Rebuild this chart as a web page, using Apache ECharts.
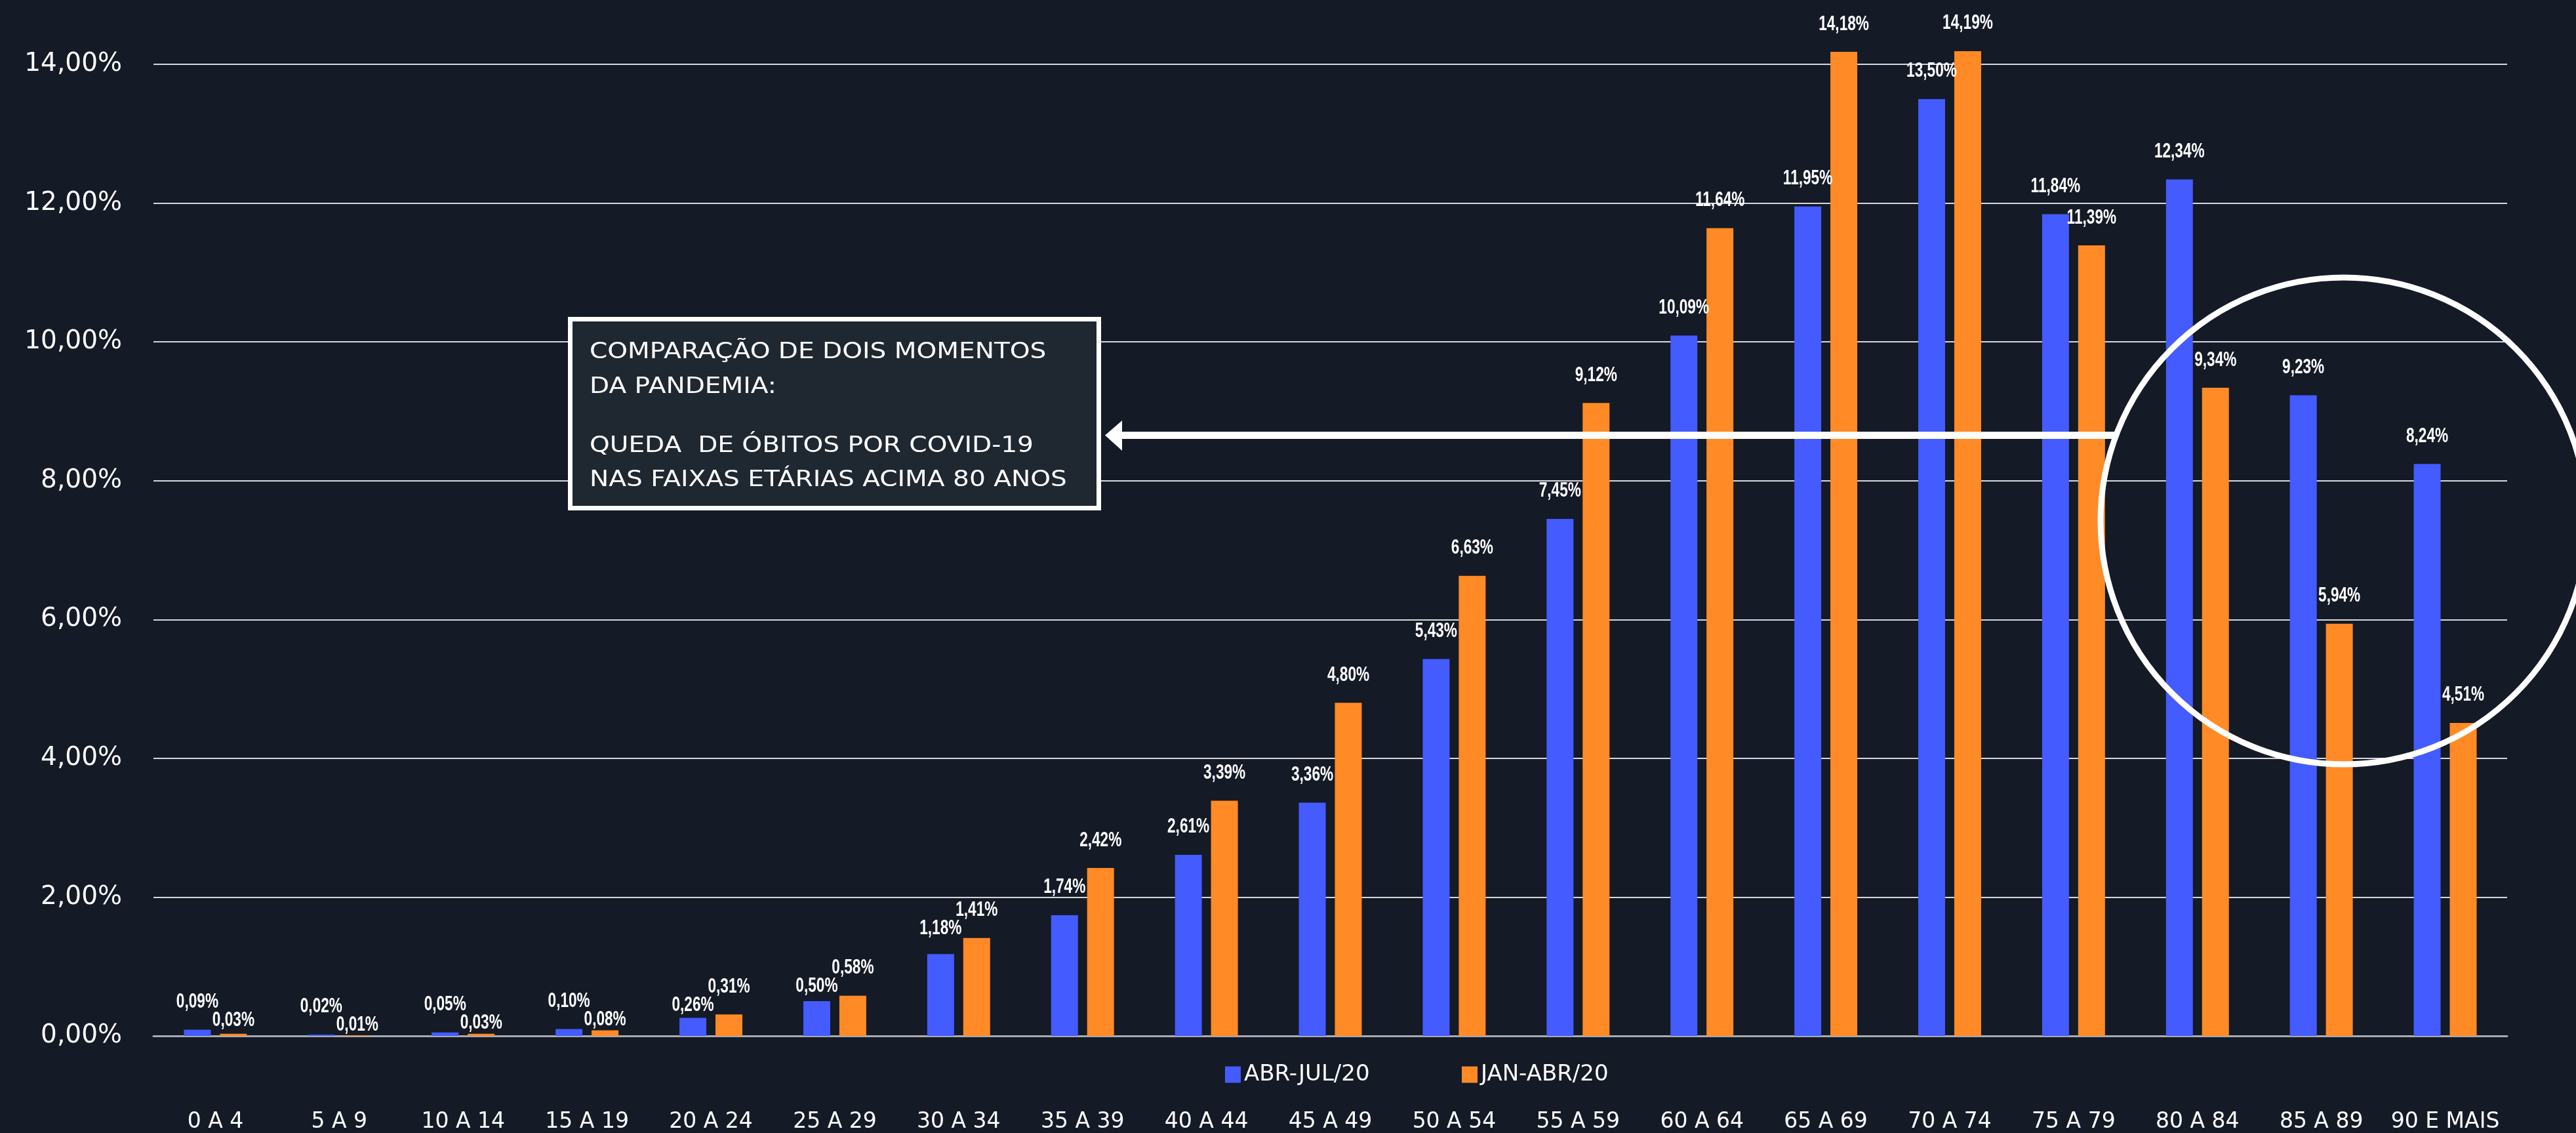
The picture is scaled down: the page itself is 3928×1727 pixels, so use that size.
<!DOCTYPE html>
<html>
<head>
<meta charset="utf-8">
<script src="https://cdn.jsdelivr.net/npm/echarts@6/dist/echarts.min.js"></script>
<style>
html,body{margin:0;padding:0;background:#141a26;}
#chart{width:3928px;height:1727px;}
</style>
</head>
<body>
<div id="chart"></div>
<script>
const categories = ["0 A 4","5 A 9","10 A 14","15 A 19","20 A 24","25 A 29","30 A 34","35 A 39","40 A 44","45 A 49","50 A 54","55 A 59","60 A 64","65 A 69","70 A 74","75 A 79","80 A 84","85 A 89","90 E MAIS"];
const abrJul = [0.09,0.02,0.05,0.10,0.26,0.50,1.18,1.74,2.61,3.36,5.43,7.45,10.09,11.95,13.50,11.84,12.34,9.23,8.24];
const janAbr = [0.03,0.01,0.03,0.08,0.31,0.58,1.41,2.42,3.39,4.80,6.63,9.12,11.64,14.18,14.19,11.39,9.34,5.94,4.51];
const seriesNames = ["ABR-JUL/20","JAN-ABR/20"];
const yTicks = {min:0, max:14, interval:2};
const boxLines1 = ["COMPARAÇÃO DE DOIS MOMENTOS","DA PANDEMIA:"];
const boxLines2 = ["QUEDA  DE ÓBITOS POR COVID-19","NAS FAIXAS ETÁRIAS ACIMA 80 ANOS"];

const BLUE = "#445BFF", ORANGE = "#FF8A26";
const SANS = "'DejaVu Sans', 'Open Sans', sans-serif";
const LBL = "'Liberation Sans', Arial, sans-serif";
const fmt = v => v.toFixed(2).replace('.', ',') + '%';

const chart = echarts.init(document.getElementById('chart'));

function labelSeries(name, values, others, offset, isFirst) {
  return {
    name: name, type: 'custom', clip: false, z: 10,
    data: values.map((v, i) => [i, v]),
    renderItem: function (params, api) {
      const i = api.value(0), v = api.value(1);
      const p = api.coord([i, v]);
      const o = api.coord([i, others[i]]);
      let y = p[1] - 42;
      const oy = o[1] - 42;
      const lower = v < others[i] || (v === others[i] && !isFirst);
      if (lower && y - oy < 28) y = oy + 28;
      return {
        type: 'text', x: p[0] + offset, y: y, scaleX: 0.73,
        style: {text: fmt(v), fill: '#ffffff', font: 'bold 31px ' + LBL,
                align: 'center', verticalAlign: 'middle'}
      };
    }
  };
}

const boxText = (txt, y) => ({
  type: 'text', x: 899, y: y, z: 101, scaleX: 1.15,
  style: {text: txt, fill: '#ffffff', font: "34px " + SANS, verticalAlign: 'middle'}
});

const legendStyle = {
  itemWidth: 24, itemHeight: 25, icon: 'rect', top: 1621, padding: 0,
  textStyle: {color: '#ffffff', fontFamily: SANS, fontSize: 34}
};

chart.setOption({
  backgroundColor: '#141a26',
  animation: false,
  grid: {left: 234, right: 105, top: 98, bottom: 147, containLabel: false},
  legend: [
    Object.assign({data: [seriesNames[0]], left: 1868}, legendStyle),
    Object.assign({data: [seriesNames[1]], left: 2229}, legendStyle)
  ],
  xAxis: {
    type: 'category', data: categories,
    axisLine: {show: true, lineStyle: {color: '#a8aaae', width: 3}},
    axisTick: {show: false},
    axisLabel: {color: '#ffffff', fontFamily: SANS, fontSize: 33, margin: 115, interval: 0}
  },
  yAxis: {
    type: 'value', min: yTicks.min, max: yTicks.max, interval: yTicks.interval,
    axisLine: {show: false}, axisTick: {show: false},
    splitLine: {lineStyle: {color: '#d8d8dc', width: 2}},
    axisLabel: {color: '#ffffff', fontFamily: SANS, fontSize: 39, margin: 48, formatter: v => fmt(v)}
  },
  series: [
    {name: seriesNames[0], type: 'bar', data: abrJul, barWidth: 41, barGap: '34%', clip: false,
     itemStyle: {color: BLUE}},
    {name: seriesNames[1], type: 'bar', data: janAbr, barWidth: 41, barGap: '34%', clip: false,
     itemStyle: {color: ORANGE}},
    labelSeries('lbl-a', abrJul, janAbr, -27.5, true),
    labelSeries('lbl-b', janAbr, abrJul, 27.5, false)
  ],
  graphic: [
    {type: 'rect', shape: {x: 869.5, y: 486.5, width: 806, height: 288},
     style: {fill: '#1f2731', stroke: '#ffffff', lineWidth: 7}, z: 100},
    boxText(boxLines1[0], 537),
    boxText(boxLines1[1], 590),
    boxText(boxLines2[0], 680),
    boxText(boxLines2[1], 732),
    {type: 'line', shape: {x1: 1706, y1: 663.5, x2: 3224, y2: 663.5},
     style: {stroke: '#ffffff', lineWidth: 11}, z: 100},
    {type: 'polygon', shape: {points: [[1685, 663.5], [1711, 641], [1711, 687]]},
     style: {fill: '#ffffff'}, z: 100},
    {type: 'circle', shape: {cx: 3574, cy: 794, r: 371},
     style: {fill: 'none', stroke: '#ffffff', lineWidth: 9}, z: 100}
  ]
});
</script>
</body>
</html>
